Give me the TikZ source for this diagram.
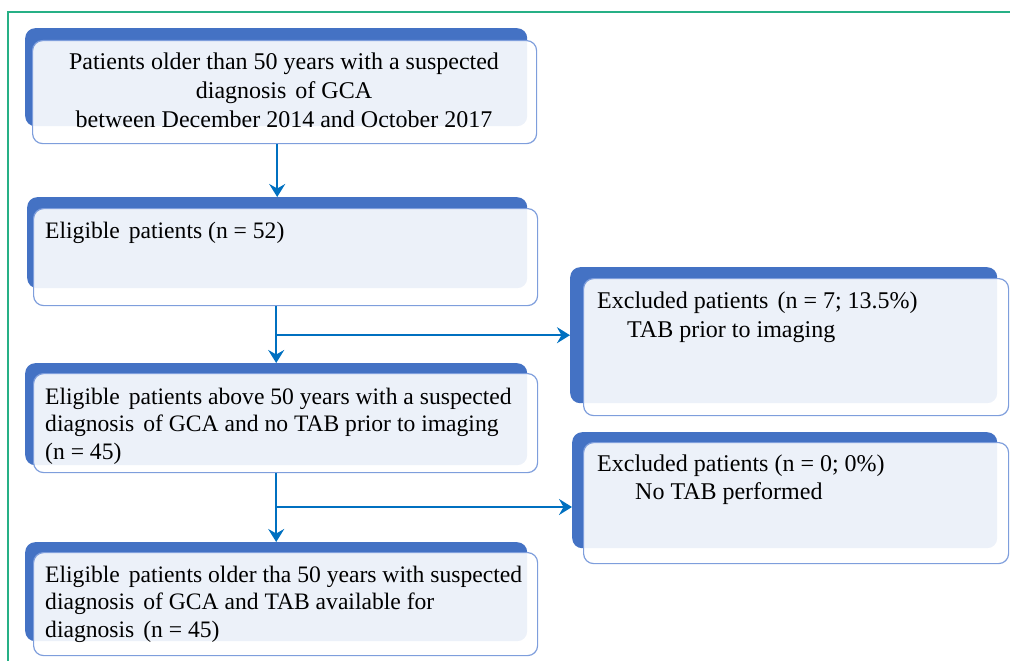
\documentclass[tikz,border=0pt]{standalone}
\usepackage{fontspec}
\setmainfont{Liberation Serif}
\usetikzlibrary{arrows.meta}
\definecolor{shadeblue}{RGB}{68,114,196}
\definecolor{edgeblue}{RGB}{126,158,220}
\definecolor{arrowblue}{RGB}{0,112,192}
\definecolor{framegreen}{RGB}{38,176,134}
\tikzset{
  backbox/.style={fill=shadeblue, rounded corners=10pt, inner sep=0pt, anchor=north west},
  frontbox/.style={fill=white, fill opacity=0.9, draw=edgeblue, draw opacity=1, line width=1.2pt, rounded corners=10pt, inner sep=0pt, anchor=north west},
  boxtext/.style={inner sep=0pt, anchor=north west, align=left, font=\fontsize{23.6}{27.5}\selectfont},
  flow/.style={draw=arrowblue, line width=2.2pt, -{Stealth[length=13pt,width=16pt,inset=4.5pt]}}
}
\newcommand{\asc}{\rule{0pt}{20pt}}
\newcommand{\dsp}{\hspace{3pt} }
\begin{document}
\begin{tikzpicture}[x=1pt, y=-1pt]
    \useasboundingbox (0,0) rectangle (1010,661);
    \draw[framegreen, line width=1.5pt] (8,662) -- (8,12) -- (1011,12);
    % shadows, then the boxes on top
    \foreach \n/\x/\y/\w/\h in {1/25/28/502/98, 2/27/197/500/91, 3/25/363/502/102, 4/25/542/502/99, A/570/267/427/136, B/572/432/425/116}
        \node[backbox, minimum width=\w pt, minimum height=\h pt] (s\n) at (\x,\y) {};
    \foreach \n/\x/\y/\w/\h in {1/32/40/504/103, 2/33/208/504/97, 3/33/373/504/99, 4/33/552/504/103, A/583/278/425/137, B/583/442/425/121}
        \node[frontbox, minimum width=\w pt, minimum height=\h pt] (b\n) at (\x,\y) {};
    \node[boxtext, anchor=north, align=center, font=\fontsize{24}{29}\selectfont] (t1) at (284,49)
        {\asc Patients older than 50 years with a suspected\\ diagnosis\dsp of GCA\\ between December 2014 and October 2017};
    \node[boxtext] (t2) at (45,218) {\asc Eligible\dsp patients (n = 52)};
    \node[boxtext] (t3) at (45,384)
        {\asc Eligible\dsp patients above 50 years with a suspected\\ diagnosis\dsp of GCA and no TAB prior to imaging\\ (n = 45)};
    \node[boxtext] (t4) at (45,562)
        {\asc Eligible\dsp patients older tha 50 years with suspected\\ diagnosis\dsp of GCA and TAB available for\\ diagnosis\dsp (n = 45)};
    \node[boxtext, font=\fontsize{24}{29}\selectfont] (tA) at (597,288)
        {\asc Excluded patients\dsp (n = 7; 13.5\%)\\ \hspace*{30pt}TAB prior to imaging};
    \node[boxtext, font=\fontsize{24}{28}\selectfont] (tB) at (597,451)
        {\asc Excluded patients (n = 0; 0\%)\\ \hspace*{38pt}No TAB performed};
    % arrows
    \draw[flow] (b1.south -| s2.north) -- (s2.north);
    \draw[flow] (b2.south -| s3.north) -- (s3.north);
    \coordinate (j1) at (s3.north |- sA.west);
    \draw[flow] (j1) -- (sA.west);
    \draw[flow] (b3.south -| s4.north) -- (s4.north);
    \path (s4.north) ++(0,-35) coordinate (j2);
    \draw[flow] (j2) -- (j2 -| sB.west);
\end{tikzpicture}
\end{document}
